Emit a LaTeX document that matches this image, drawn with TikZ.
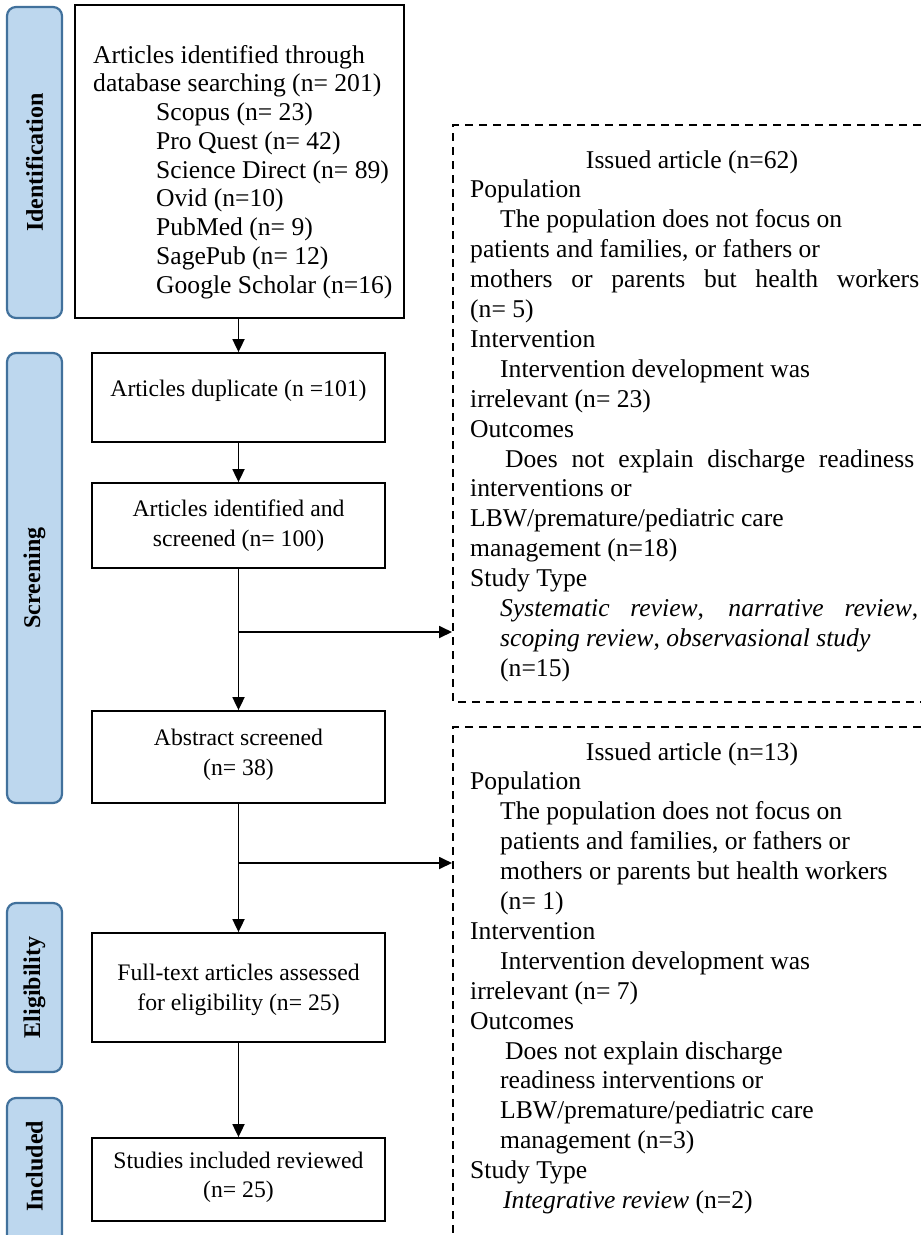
\documentclass[tikz,border=0pt]{standalone}
\usepackage{fontspec}
\setmainfont{Liberation Serif}
\usetikzlibrary{arrows.meta}
\definecolor{sidefill}{HTML}{BDD7EE}
\definecolor{sideedge}{HTML}{41719C}
\begin{document}
\begin{tikzpicture}[x=1pt,y=-1pt,
  side/.style={draw=sideedge, fill=sidefill, line width=2.2pt, rounded corners=9pt, inner sep=0pt},
  sidelabel/.style={rotate=90, font=\fontsize{24}{28}\selectfont\bfseries, inner sep=0pt},
  box/.style={draw, line width=1.8pt, inner sep=0pt},
  txt/.style={anchor=base west, inner sep=0pt, font=\fontsize{25.6}{29}\selectfont},
  ctxt/.style={align=center, inner sep=0pt, font=\fontsize{25.6}{29}\selectfont},
  btxt/.style={align=center, inner sep=0pt, font=\fontsize{23.7}{29.5}\selectfont},
  dbox/.style={dash pattern=on 8pt off 6pt, line width=1.8pt},
  arr/.style={line width=1.8pt, -{Triangle[length=13pt,width=12pt]}}]
\clip (0,0) rectangle (921,1235);
\fill[white] (0,0) rectangle (921,1235);

% side stage labels
\node[side, minimum width=55pt, minimum height=311pt] (sid) at (34.5,162.5) {};
\node[sidelabel] (sidl) at (sid) {Identification};
\node[side, minimum width=55pt, minimum height=450pt] (sscr) at (34.5,578) {};
\node[sidelabel] (sscrl) at (sscr) {Screening};
\node[side, minimum width=55pt, minimum height=169pt] (selg) at (34.5,987.5) {};
\node[sidelabel] (selgl) at (selg) {Eligibility};
\node[side, minimum width=55pt, minimum height=160pt] (sinc) at (34.5,1178) {};
\node[sidelabel] (sincl) at (34.5,1166) {Included};

% main boxes
\node[box, minimum width=329pt, minimum height=313pt] (b1) at (239.5,161.5) {};
\node[txt] (b1a) at (93,63) {Articles identified through};
\node[txt] (b1b) at (93,91.75) {database searching (n= 201)};
\node[txt] (b1c) at (156,120.5) {Scopus (n= 23)};
\node[txt] (b1d) at (156,149.25) {Pro Quest (n= 42)};
\node[txt] (b1e) at (156,178) {Science Direct (n= 89)};
\node[txt] (b1f) at (156,206.75) {Ovid (n=10)};
\node[txt] (b1g) at (156,235.5) {PubMed (n= 9)};
\node[txt] (b1h) at (156,264.25) {SagePub (n= 12)};
\node[txt] (b1i) at (156,293) {Google Scholar (n=16)};

\node[box, minimum width=293pt, minimum height=89pt] (b2) at (238.5,397.5) {};
\node[btxt] (b2t) at (238.5,391) {Articles duplicate (n =101)};
\node[box, minimum width=293pt, minimum height=85pt] (b3) at (238.5,525.5) {};
\node[btxt] (b3t) at (238.5,525.5) {Articles identified and\\screened (n= 100)};
\node[box, minimum width=293pt, minimum height=92pt] (b4) at (238.5,757) {};
\node[btxt] (b4t) at (238.5,755) {Abstract screened\\(n= 38)};
\node[box, minimum width=293pt, minimum height=109pt] (b5) at (238.5,987.5) {};
\node[btxt] (b5t) at (238.5,990) {Full-text articles assessed\\for eligibility (n= 25)};
\node[box, minimum width=293pt, minimum height=83pt] (b6) at (238.5,1179.5) {};
\node[btxt] (b6t) at (238.5,1177.5) {Studies included reviewed\\(n= 25)};

% dashed exclusion boxes
\draw[dbox] (935,125) -- (453,125) -- (453,702) -- (935,702);
\draw[dbox] (935,727) -- (453,727) -- (453,1250);
\coordinate (d1in) at (452,632);
\coordinate (d2in) at (452,863);

% connectors
\draw[arr] (b1.south -| b2.north) -- (b2.north);
\draw[arr] (b2) -- (b3);
\draw[arr] (b3) -- (b4);
\draw[arr] (b4) -- (b5);
\draw[arr] (b5) -- (b6);
\draw[arr] (b3.south |- d1in) -- (d1in);
\draw[arr] (b4.south |- d2in) -- (d2in);

% exclusion text 1
\node[ctxt, anchor=base] (e1) at (692,168) {Issued article (n=62)};
\node[txt] (e1p) at (470,197.9) {Population};
\node[txt] (e1p1) at (500,227.8) {The population does not focus on};
\node[txt] (e1p2) at (470,257.7) {patients and families, or fathers or};
\node[txt] (e1p3) at (470,287.6) {\makebox[449pt][s]{mothers or parents but health workers}};
\node[txt] (e1p4) at (470,317.5) {(n= 5)};
\node[txt] (e1i) at (470,347.4) {Intervention};
\node[txt] (e1i1) at (500,377.3) {Intervention development was};
\node[txt] (e1i2) at (470,407.2) {irrelevant (n= 23)};
\node[txt] (e1o) at (470,437.1) {Outcomes};
\node[txt] (e1o1) at (505,467) {\makebox[409pt][s]{Does not explain discharge readiness}};
\node[txt] (e1o2) at (470,496.9) {interventions or};
\node[txt] (e1o3) at (470,526.8) {LBW/premature/pediatric care};
\node[txt] (e1o4) at (470,556.7) {management (n=18)};
\node[txt] (e1s) at (470,586.6) {Study Type};
\node[txt] (e1s1) at (500,616.5) {\makebox[418pt][s]{\textit{Systematic review}, \textit{narrative review},}};
\node[txt] (e1s2) at (500,646.4) {\textit{scoping review}, \textit{observasional study}};
\node[txt] (e1s3) at (500,676.3) {(n=15)};

% exclusion text 2
\node[ctxt, anchor=base] (e2) at (692,760) {Issued article (n=13)};
\node[txt] (e2p) at (470,789.9) {Population};
\node[txt] (e2p1) at (500,819.8) {The population does not focus on};
\node[txt] (e2p2) at (500,849.7) {patients and families, or fathers or};
\node[txt] (e2p3) at (500,879.6) {mothers or parents but health workers};
\node[txt] (e2p4) at (500,909.5) {(n= 1)};
\node[txt] (e2i) at (470,939.4) {Intervention};
\node[txt] (e2i1) at (500,969.3) {Intervention development was};
\node[txt] (e2i2) at (470,999.2) {irrelevant (n= 7)};
\node[txt] (e2o) at (470,1029.1) {Outcomes};
\node[txt] (e2o1) at (505,1059) {Does not explain discharge};
\node[txt] (e2o2) at (500,1088.9) {readiness interventions or};
\node[txt] (e2o3) at (500,1118.8) {LBW/premature/pediatric care};
\node[txt] (e2o4) at (500,1148.7) {management (n=3)};
\node[txt] (e2s) at (470,1178.6) {Study Type};
\node[txt] (e2s1) at (503,1208.5) {\textit{Integrative review} (n=2)};
\end{tikzpicture}
\end{document}
